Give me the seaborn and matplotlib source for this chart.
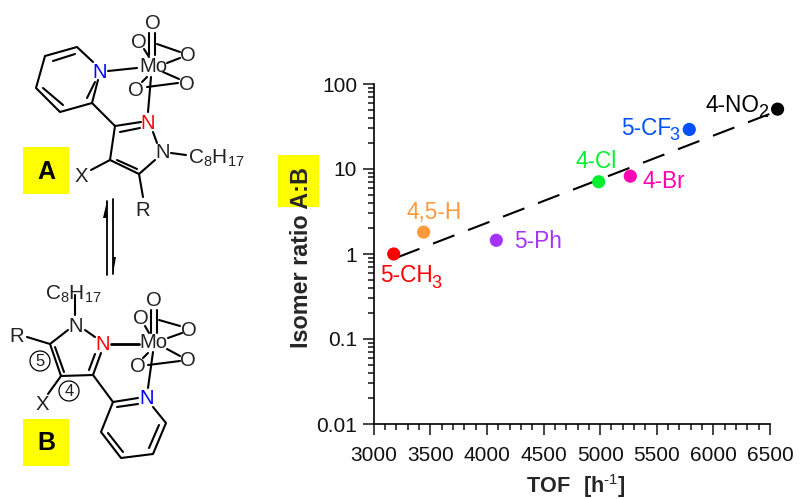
import numpy as np
import pandas as pd
import matplotlib
matplotlib.use('Agg')
import matplotlib.pyplot as plt
from matplotlib.patches import Rectangle, Circle
from matplotlib.ticker import LogLocator, NullFormatter
import seaborn as sns

sns.set_theme(style='ticks')
plt.rcParams['font.family'] = ['Liberation Sans', 'DejaVu Sans']
plt.rcParams['mathtext.fontset'] = 'custom'
plt.rcParams['mathtext.rm'] = 'Liberation Sans'
plt.rcParams['mathtext.bf'] = 'Liberation Sans:bold'

# chart data
labels = ['5-CH', '4,5-H', '5-Ph', '4-Cl', '4-Br', '5-CF', '4-NO']
subscripts = ['3', '', '', '', '', '3', '2']
tof = [3177, 3441, 4083, 4987, 5266, 5787, 6567]
ratio = [1.0, 1.81, 1.45, 7.08, 8.24, 29.2, 50.6]
colors = ['#ff0000', '#ff9a3c', '#a533ff', '#00f030', '#ff00b4', '#0050ff', '#000000']
fit_tof = [3215, 6520]
fit_ratio = [0.92, 45.7]
x_ticks = [3000, 3500, 4000, 4500, 5000, 5500, 6000, 6500]
y_ticks = [0.01, 0.1, 1, 10, 100]
y_tick_labels = ['0.01', '0.1', '1', '10', '100']

# label placement in image pixels (left, centre y), subscript (left, centre y)
label_pos = [(380, 276), (407, 212), (514, 242), (576, 162), (643, 181), (621, 128), (706, 105)]
sub_pos = [(431, 283), None, None, None, None, (669, 135), (758, 112)]

# scheme drawing, image pixels
bonds_a = [
    [(93, 62), (77, 47), (45, 56), (36, 88), (60, 112), (92, 103), (98, 80)],
    [(53, 61), (75, 54)], [(43, 88), (63, 105)], [(87, 98), (95, 82)],
    [(92, 103), (115, 126)], [(115, 126), (141, 122)], [(120, 132), (140, 128)],
    [(153, 132), (157, 143)], [(155, 160), (139, 174), (110, 160), (115, 126)],
    [(117, 160), (137, 169)], [(171, 153), (186, 155)], [(91, 170), (110, 160)],
    [(139, 174), (143, 197)], [(108, 71), (137, 68)],
    [(149, 33), (149, 55)], [(155, 33), (155, 55)], [(144, 49), (149, 57)],
    [(157, 44), (180, 52)], [(167, 63), (180, 58)], [(163, 72), (179, 79)],
    [(147, 87), (178, 83)], [(142, 82), (147, 77)], [(151, 77), (148, 112)],
]
bonds_b = [
    [(75, 295), (75, 315)], [(85, 330), (95, 337)], [(68, 330), (50, 344), (27, 337)],
    [(50, 344), (61, 376), (93, 375), (101, 353)], [(55, 347), (64, 372)],
    [(89, 370), (95, 354)], [(61, 376), (48, 394)], [(93, 375), (113, 402), (138, 398)],
    [(117, 407), (138, 404)], [(153, 407), (166, 423), (153, 454), (121, 458), (101, 432), (113, 402)],
    [(159, 425), (149, 448)], [(123, 452), (108, 433)],
    [(151, 310), (151, 333)], [(157, 310), (157, 333)], [(145, 326), (149, 333)],
    [(159, 320), (180, 326)], [(168, 338), (182, 333)], [(167, 349), (180, 356)],
    [(148, 365), (180, 361)], [(143, 358), (148, 353)], [(153, 352), (148, 388)],
]
atoms = [
    ('N', 100, 72, 'blue'), ('Mo', 153, 66, '#222222'), ('O', 153, 23, '#222222'),
    ('O', 139, 42, '#222222'), ('O', 188, 55, '#222222'), ('O', 187, 84, '#222222'),
    ('O', 136, 90, '#222222'), ('N', 148, 123, 'red'), ('N', 163, 153, '#222222'),
    ('X', 81, 176, '#222222'), ('R', 143, 210, '#222222'),
    ('N', 76, 326, '#222222'), ('N', 103, 345, 'red'), ('R', 17, 337, '#222222'),
    ('X', 42, 404, '#222222'), ('Mo', 153, 343, '#222222'), ('O', 154, 301, '#222222'),
    ('O', 141, 318, '#222222'), ('O', 189, 331, '#222222'), ('O', 188, 360, '#222222'),
    ('O', 138, 367, '#222222'), ('N', 147, 399, 'blue'),
]

fig = plt.figure(figsize=(8.04, 4.99), dpi=100, facecolor='white')

# background layer in pixel coordinates
bg = fig.add_axes([0, 0, 1, 1], zorder=0)
bg.set_xlim(0, 804)
bg.set_ylim(499, 0)
bg.axis('off')

bg.add_patch(Rectangle((23, 147), 46, 47, color='#ffff00', lw=0))
bg.add_patch(Rectangle((23, 419), 46, 47, color='#ffff00', lw=0))
bg.add_patch(Rectangle((278, 155), 41, 52, color='#ffff00', lw=0))
bg.text(46, 172, 'A', fontsize=18, fontweight='bold', ha='center', va='center', color='black')
bg.text(46, 443, 'B', fontsize=18, fontweight='bold', ha='center', va='center', color='black')

for bond in bonds_a + bonds_b:
    xs, ys = zip(*bond)
    bg.plot(xs, ys, color='black', lw=1.5, solid_capstyle='round')
bg.plot([111, 139], [344, 344], color='black', lw=2)

for name, x, y, col in atoms:
    bg.text(x, y, name, fontsize=14.6, ha='center', va='center', color=col)
bg.text(188, 158, r'$\mathregular{C_8H_{17}}$', fontsize=15, ha='left', va='center', color='#222222')
bg.text(45, 294, r'$\mathregular{C_8H_{17}}$', fontsize=15, ha='left', va='center', color='#222222')

for num, x, y in [('5', 40, 361), ('4', 69, 391)]:
    bg.add_patch(Circle((x, y), 10, fill=False, ec='black', lw=0.9))
    bg.text(x, y, num, fontsize=12, ha='center', va='center', color='#222222')

# equilibrium arrows
bg.plot([107, 107], [201, 275], color='black', lw=1.3)
bg.plot([113, 113], [199, 274], color='black', lw=1.3)
bg.fill([107, 103, 107], [201, 218, 218], color='black', lw=0)
bg.fill([113, 116, 113], [274, 257, 257], color='black', lw=0)

# point labels
for name, sub, pos, spos, col in zip(labels, subscripts, label_pos, sub_pos, colors):
    bg.text(pos[0], pos[1], name, fontsize=16.3, color=col, ha='left', va='center')
    if sub:
        bg.text(spos[0], spos[1], sub, fontsize=13, color=col, ha='left', va='center')

# chart
df = pd.DataFrame({'tof': tof, 'ratio': ratio, 'label': labels})
fit_df = pd.DataFrame({'tof': fit_tof, 'ratio': fit_ratio})

ax = fig.add_axes([373.7 / 804, 1 - 424 / 499, (770 - 373.7) / 804, (424 - 84) / 499], zorder=1)
ax.patch.set_alpha(0)

sns.lineplot(data=fit_df, x='tof', y='ratio', color='black', lw=1.5, ax=ax,
             linestyle=(0, (11, 7)), clip_on=False)
sns.scatterplot(data=df, x='tof', y='ratio', hue='label', palette=colors, s=90,
                linewidth=0, legend=False, clip_on=False, zorder=3, ax=ax)

ax.set_yscale('log')
ax.set_xlim(3000, 6500)
ax.set_ylim(0.01, 100)
ax.set_xticks(x_ticks)
ax.set_xticks(np.arange(3000, 6501, 100), minor=True)
ax.set_yticks(y_ticks)
ax.set_yticklabels(y_tick_labels)
ax.yaxis.set_minor_locator(LogLocator(base=10, subs=range(2, 10), numticks=10))
ax.yaxis.set_minor_formatter(NullFormatter())

sns.despine(ax=ax)
for side in ['left', 'bottom']:
    ax.spines[side].set_linewidth(1.2)
    ax.spines[side].set_color('black')
ax.tick_params(axis='both', which='major', length=8, width=1.1, labelsize=15,
               colors='#111111', direction='out')
ax.tick_params(axis='both', which='minor', length=4.5, width=1.1, color='#111111', direction='out')
ax.tick_params(axis='x', which='major', pad=8)
ax.tick_params(axis='y', which='major', pad=4)

ax.set_xlabel(r'$\mathbf{TOF\ \ [h}^{\mathregular{\text{-}1}}\mathbf{]}$', fontsize=15.6)
ax.set_ylabel('Isomer ratio A:B', fontsize=16.8, fontweight='bold')
ax.xaxis.set_label_coords((576 - 373.7) / (770 - 373.7), 1 - (486 - 84) / 340, transform=ax.transAxes)
ax.yaxis.set_label_coords((302 - 373.7) / (770 - 373.7), 1 - (257 - 84) / 340, transform=ax.transAxes)
ax.xaxis.label.set_va('center')
ax.yaxis.label.set_va('center')

fig.savefig('out.png', dpi=100)
